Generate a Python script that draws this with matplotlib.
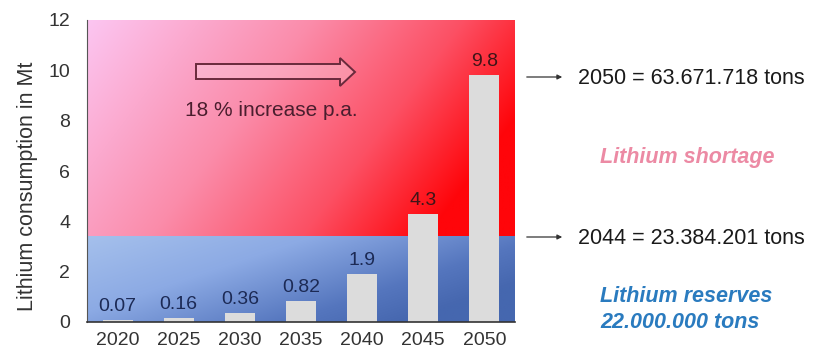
import numpy as np
import matplotlib
matplotlib.use("Agg")
import matplotlib.pyplot as plt
from matplotlib.patches import Polygon

plt.rcParams['font.family'] = ['Liberation Sans', 'DejaVu Sans']

# ---- data ----
years = ["2020", "2025", "2030", "2035", "2040", "2045", "2050"]
consumption_mt = [0.07, 0.16, 0.36, 0.82, 1.9, 4.3, 9.8]
value_labels = ["0.07", "0.16", "0.36", "0.82", "1.9", "4.3", "9.8"]
reserve_level_mt = 3.4
y_ticks = [0, 2, 4, 6, 8, 10, 12]

W, H = 813, 360
fig = plt.figure(figsize=(W / 100, H / 100), dpi=100)
fig.patch.set_facecolor("white")
ax = fig.add_axes([87 / W, (H - 322) / H, 428 / W, 302 / H])

n = len(years)
x = np.arange(n)
ax.set_xlim(-0.5, n - 0.5)
ax.set_ylim(0, 12)

# ---- gradient backgrounds ----
def lerp(stops, t):
    t = np.clip(t, 0, 1)
    pos = np.array([s[0] for s in stops])
    cols = np.array([s[1] for s in stops], dtype=float) / 255.0
    out = np.empty(t.shape + (3,))
    for c in range(3):
        out[..., c] = np.interp(t, pos, cols[:, c])
    return out

ymax = 12.0
# red (shortage) zone
nr, nc = 200, 300
u = np.linspace(0, 1, nc)[None, :]
yy = np.linspace(ymax, reserve_level_mt, nr)[:, None]
v = (ymax - yy) / ymax
t_red = 0.85 * u + 0.45 * v
red_img = lerp([(0.0, (252, 198, 242)), (0.45, (250, 140, 170)),
                (0.75, (252, 80, 100)), (1.0, (255, 5, 10))], t_red)
ax.imshow(red_img, extent=(-0.5, n - 0.5, reserve_level_mt, ymax),
          aspect='auto', origin='upper', zorder=0, interpolation='bilinear')

# blue (reserves) zone
yy2 = np.linspace(reserve_level_mt, 0, 80)[:, None]
w = (reserve_level_mt - yy2) / reserve_level_mt
t_blue = 0.75 * u + 0.45 * w
blue_img = lerp([(0.0, (165, 192, 236)), (0.4, (140, 170, 228)),
                 (0.8, (85, 118, 190)), (1.2, (55, 88, 160))], t_blue / 1.2 * 1.2)
ax.imshow(blue_img, extent=(-0.5, n - 0.5, 0, reserve_level_mt),
          aspect='auto', origin='upper', zorder=0, interpolation='bilinear')

# ---- bars ----
ax.bar(x, consumption_mt, width=0.49, color="#dcdcdc", edgecolor="none", zorder=2)

for xi, val, lab in zip(x, consumption_mt, value_labels):
    col = "#1c2a55" if val < reserve_level_mt else "#3e1518"
    ax.annotate(lab, (xi, val), xytext=(0, 6.5), textcoords="offset points",
                ha="center", va="baseline", fontsize=14, color=col, zorder=3)

# ---- axes styling ----
ax.set_xticks(x)
ax.set_xticklabels(years)
ax.set_yticks(y_ticks)
ax.set_yticklabels([str(t) for t in y_ticks])
ax.tick_params(axis="both", length=0, labelsize=14, colors="#333333")
ax.tick_params(axis="x", pad=7)
ax.tick_params(axis="y", pad=12)
for s in ["top", "right"]:
    ax.spines[s].set_visible(False)
ax.spines["left"].set_color("#555555")
ax.spines["left"].set_linewidth(0.8)
ax.spines["bottom"].set_color("#333333")
ax.spines["bottom"].set_linewidth(1.2)
ax.spines["left"].set_zorder(4)
ax.spines["bottom"].set_zorder(4)

ax.set_ylabel("Lithium consumption in Mt", fontsize=15.5, color="#333333")
ax.yaxis.set_label_coords(-0.115, 0.45)

# ---- hollow growth arrow (axes-fraction coords) ----
def af(px, py):
    return ((px - 87) / 428, (322 - py) / 302)

arrow_pts = [af(196, 64), af(340, 64), af(340, 58), af(355, 72),
             af(340, 86), af(340, 79), af(196, 79)]
ax.add_patch(Polygon(arrow_pts, closed=True, transform=ax.transAxes,
                     facecolor=(1, 0.85, 0.9, 0.35), edgecolor="#6a2a3c",
                     linewidth=1.4, zorder=3))
ax.text(*af(185, 110), "18 % increase p.a.", transform=ax.transAxes,
        ha="left", va="center", fontsize=15, color="#4a1e2e", zorder=3)

# ---- right-side annotations (figure pixel coords) ----
def ff(px, py):
    return (px / W, 1 - py / H)

for py, txt in [(77, "2050 = 63.671.718 tons"), (237, "2044 = 23.384.201 tons")]:
    fig.add_artist(matplotlib.patches.FancyArrowPatch(
        ff(524, py), ff(565, py), transform=fig.transFigure,
        arrowstyle="-|>", mutation_scale=7, color="#333333", linewidth=0.9))
    fig.text(*ff(578, py + 1), txt, ha="left", va="center",
             fontsize=15.5, color="#1a1a1a")

fig.text(*ff(600, 158), "Lithium shortage", ha="left", va="center",
         fontsize=15.5, fontweight="bold", fontstyle="italic", color="#ec8aa4")
fig.text(*ff(600, 296), "Lithium reserves", ha="left", va="center",
         fontsize=15.5, fontweight="bold", fontstyle="italic", color="#2a7bbf")
fig.text(*ff(600, 323), "22.000.000 tons", ha="left", va="center",
         fontsize=15.5, fontweight="bold", fontstyle="italic", color="#2a7bbf")

fig.savefig("out.png", dpi=100, facecolor="white")
